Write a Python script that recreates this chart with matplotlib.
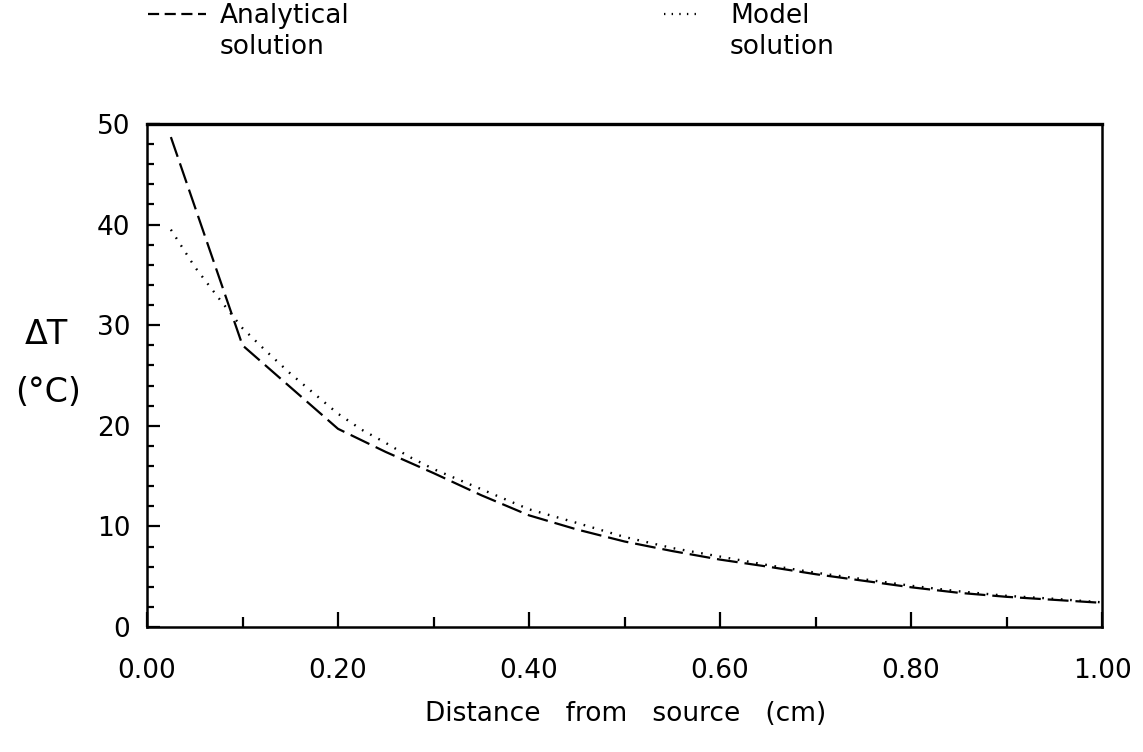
import numpy as np
import matplotlib
matplotlib.use("Agg")
import matplotlib.pyplot as plt
from matplotlib.lines import Line2D
from matplotlib.ticker import MultipleLocator, FormatStrFormatter

plt.rcParams['font.family'] = ['DejaVu Sans']
plt.rcParams['lines.scale_dashes'] = False

# distance from source (cm)
x_analytical = [0.025, 0.1, 0.2, 0.25, 0.3, 0.35, 0.4, 0.45, 0.5, 0.55,
                0.6, 0.65, 0.7, 0.75, 0.8, 0.85, 0.9, 0.95, 1.0]
# temperature rise (deg C)
dT_analytical = [48.7, 28.0, 19.7, 17.4, 15.3, 13.1, 11.1, 9.7, 8.5, 7.55,
                 6.7, 6.0, 5.25, 4.6, 3.95, 3.4, 3.0, 2.7, 2.4]

x_model = [0.025, 0.05, 0.075, 0.1, 0.125, 0.15, 0.175, 0.2, 0.225, 0.25,
           0.275, 0.3, 0.35, 0.4, 0.45, 0.5, 0.55, 0.6, 0.65, 0.7,
           0.75, 0.8, 0.85, 0.9, 0.95, 1.0]
dT_model = [39.5, 35.8, 32.7, 29.7, 27.4, 25.2, 23.2, 21.2, 19.6, 18.3,
            16.9, 15.7, 13.7, 11.7, 10.35, 8.95, 7.85, 7.0, 6.15, 5.4,
            4.75, 4.1, 3.55, 3.1, 2.8, 2.45]

W, H = 1143, 752
fig = plt.figure(figsize=(W / 100, H / 100), dpi=100)
# axes box measured in pixels: x 147..1102, y 124..627
ax = fig.add_axes([147 / W, 1 - 627 / H, 955 / W, 503 / H])

ax.plot(x_analytical, dT_analytical, color='black', lw=1.6,
        linestyle=(0, (15, 5)))
ax.plot(x_model, dT_model, color='black', lw=1.7,
        linestyle=(0, (1.2, 5.5)))

ax.set_xlim(0, 1)
ax.set_ylim(0, 50)

ax.xaxis.set_major_locator(MultipleLocator(0.2))
ax.xaxis.set_minor_locator(MultipleLocator(0.1))
ax.xaxis.set_major_formatter(FormatStrFormatter('%.2f'))
ax.yaxis.set_major_locator(MultipleLocator(10))
ax.yaxis.set_minor_locator(MultipleLocator(2))

ax.tick_params(axis='both', which='both', direction='in', colors='black',
               labelsize=19, width=1.6)
ax.tick_params(axis='x', which='major', length=11, pad=22)
ax.tick_params(axis='x', which='minor', length=7)
ax.tick_params(axis='y', which='major', length=9, pad=12)
ax.tick_params(axis='y', which='minor', length=5)

for side in ['left', 'bottom', 'right']:
    ax.spines[side].set_linewidth(1.8)
ax.spines['top'].set_linewidth(2.4)

# y label, horizontal in two lines
fig.text(46 / W, 1 - 334 / H, '\u0394T', fontsize=24, ha='center', va='center')
fig.text(48 / W, 1 - 392 / H, '(\u00b0C)', fontsize=24, ha='center', va='center')

fig.text(626 / W, 1 - 714 / H, 'Distance   from   source   (cm)', fontsize=19,
         ha='center', va='center')

# legend drawn by hand at the top
fig.add_artist(Line2D([148 / W, 206 / W], [1 - 14 / H, 1 - 14 / H],
                      color='black', lw=1.6, linestyle=(0, (8, 4))))
fig.text(220 / W, 1 - 16 / H, 'Analytical', fontsize=19, va='center')
fig.text(220 / W, 1 - 47 / H, 'solution', fontsize=19, va='center')

fig.add_artist(Line2D([664 / W, 702 / W], [1 - 14 / H, 1 - 14 / H],
                      color='black', lw=1.6, linestyle=(0, (1, 4.5))))
fig.text(730 / W, 1 - 16 / H, 'Model', fontsize=19, va='center')
fig.text(730 / W, 1 - 47 / H, 'solution', fontsize=19, va='center')

fig.savefig('out.png', dpi=100)
